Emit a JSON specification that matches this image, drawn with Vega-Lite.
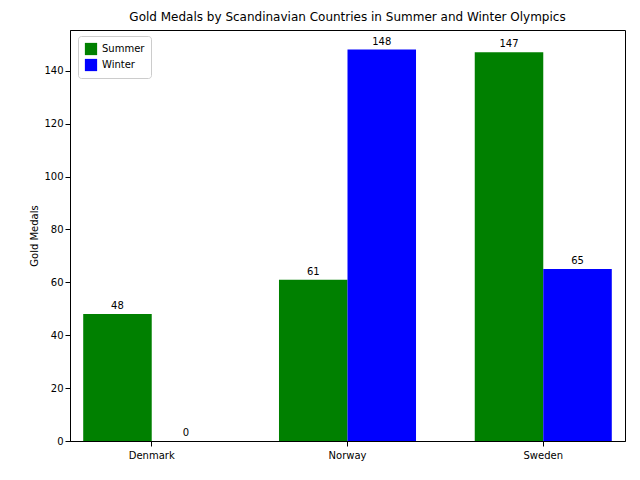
{
  "$schema": "https://vega.github.io/schema/vega-lite/v6.json",
  "autosize": "none",
  "width": 555,
  "height": 411,
  "padding": {"left": 70, "top": 30, "right": 15, "bottom": 39},
  "config": {
    "font": "DejaVu Sans",
    "view": {"stroke": "black", "strokeWidth": 1},
    "axis": {"labelFontSize": 10, "labelColor": "black", "tickColor": "black", "domainColor": "black", "grid": false, "titleFontWeight": "normal", "titleFontSize": 10}
  },
  "title": {"text": "Gold Medals by Scandinavian Countries in Summer and Winter Olympics", "fontSize": 12, "fontWeight": "normal", "anchor": "middle", "offset": 6},
  "data": {
    "values": [
      {"country": "Denmark", "season": "Summer", "gold": 48},
      {"country": "Denmark", "season": "Winter", "gold": 0},
      {"country": "Norway", "season": "Summer", "gold": 61},
      {"country": "Norway", "season": "Winter", "gold": 148},
      {"country": "Sweden", "season": "Summer", "gold": 147},
      {"country": "Sweden", "season": "Winter", "gold": 65}
    ]
  },
  "encoding": {
    "x": {"field": "country", "type": "nominal", "title": null, "scale": {"paddingInner": 0.3, "paddingOuter": 0.0675}, "axis": {"labelAngle": 0, "labelPadding": 4}},
    "xOffset": {"field": "season", "type": "nominal", "scale": {"paddingInner": 0, "paddingOuter": 0}},
    "y": {"field": "gold", "type": "quantitative", "title": "Gold Medals", "scale": {"domain": [0, 155.4], "nice": false}, "axis": {"values": [0, 20, 40, 60, 80, 100, 120, 140]}}
  },
  "layer": [
    {
      "mark": "bar",
      "encoding": {
        "color": {"field": "season", "type": "nominal", "scale": {"domain": ["Summer", "Winter"], "range": ["#008000", "#0000ff"]},
          "legend": {"title": null, "orient": "none", "legendX": 8, "legendY": 6, "symbolType": "square", "symbolSize": 150, "labelFontSize": 10, "strokeColor": "#cccccc", "padding": 6, "fillColor": "white", "cornerRadius": 3}}
      }
    },
    {
      "mark": {"type": "text", "baseline": "bottom", "dy": -3, "fontSize": 10, "color": "black"},
      "encoding": {"text": {"field": "gold", "type": "quantitative"}}
    }
  ]
}
